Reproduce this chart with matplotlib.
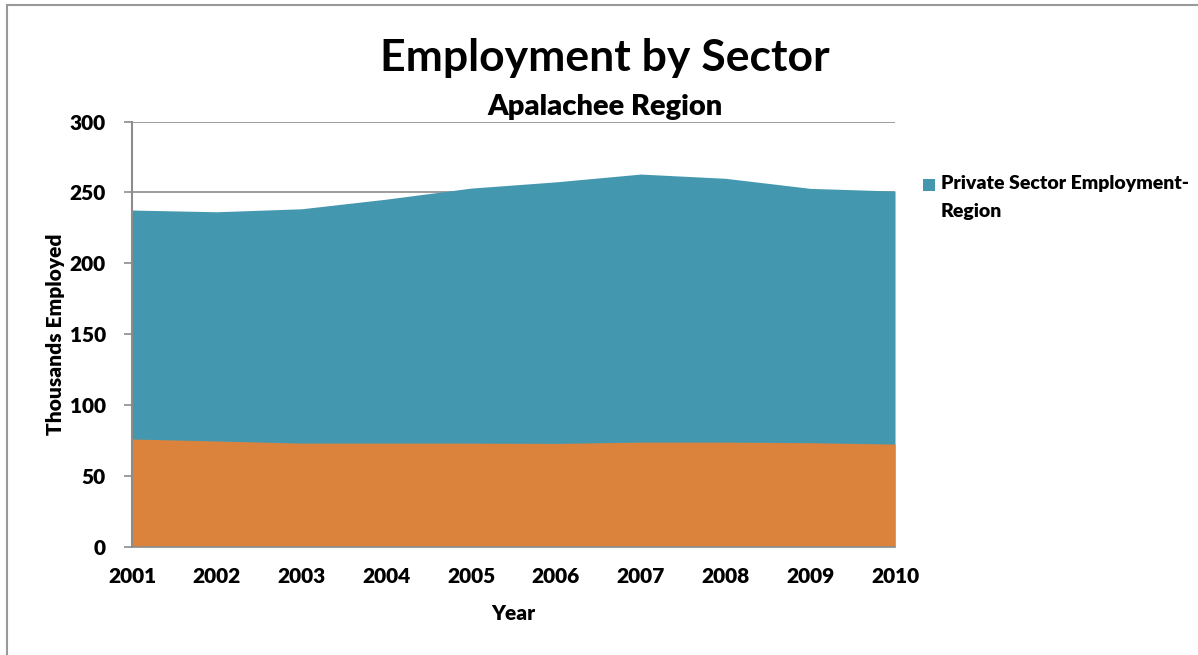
import matplotlib.pyplot as plt
from matplotlib.patches import Rectangle

plt.rcParams['font.family'] = ['Lato', 'DejaVu Sans']

years = [2001, 2002, 2003, 2004, 2005, 2006, 2007, 2008, 2009, 2010]
private_region = [237.5, 236.3, 238.4, 245.2, 253.0, 257.4, 262.9, 259.9, 252.8, 250.9]
public_region = [75.9, 74.5, 73.0, 73.0, 73.0, 72.8, 73.7, 73.7, 73.3, 72.3]
y_ticks = [0, 50, 100, 150, 200, 250, 300]

teal = '#4398B0'
orange = '#DB833D'
grey = '#8C8C8C'
W = 'heavy'

fig = plt.figure(figsize=(11.98, 6.55), dpi=100)
ax = fig.add_axes([0.1102, 0.1656, 0.6369, 0.6489])

ax.fill_between(years, 0, private_region, color=teal, linewidth=0, zorder=2)
ax.fill_between(years, 0, public_region, color=orange, linewidth=0, zorder=3)

ax.set_xlim(years[0], years[-1])
ax.set_ylim(0, 300)
ax.set_xticks(years)
ax.set_yticks(y_ticks)
ax.grid(axis='y', color=grey, linewidth=1.2, zorder=1)
ax.set_axisbelow(True)

for side in ['top', 'right']:
    ax.spines[side].set_visible(False)
ax.spines['left'].set_color(grey)
ax.spines['left'].set_linewidth(1.5)
ax.spines['left'].set_zorder(5)
ax.spines['bottom'].set_color(grey)
ax.spines['bottom'].set_linewidth(1.2)
ax.spines['bottom'].set_zorder(5)

ax.tick_params(axis='y', length=6, width=1.2, color=grey, pad=13, labelsize=15)
ax.tick_params(axis='x', length=0, pad=15, labelsize=15)
for lab in ax.get_xticklabels() + ax.get_yticklabels():
    lab.set_fontweight(W)

ax.set_xlabel('Year', fontsize=15, fontweight=W, labelpad=13)
ax.set_ylabel('Thousands Employed', fontsize=15, fontweight=W, labelpad=3)

fig.text(0.505, 0.912, 'Employment by Sector', ha='center', va='center',
         fontsize=32, fontweight='bold')
fig.text(0.505, 0.836, 'Apalachee Region', ha='center', va='center',
         fontsize=21, fontweight=W)

# legend for the private sector series
fig.patches.append(Rectangle((923 / 1198, 1 - 191 / 655), 12 / 1198, 12 / 655,
                             transform=fig.transFigure, facecolor=teal,
                             edgecolor='none'))
fig.text(941 / 1198, 1 - 175 / 655, 'Private Sector Employment-\nRegion',
         ha='left', va='top', fontsize=14, fontweight=W,
         linespacing=1.8, transform=fig.transFigure)

# outer chart frame
fig.patches.append(Rectangle((6.5 / 1198, -0.1), 1.2, 1 - 5 / 655 + 0.1,
                             transform=fig.transFigure, facecolor='none',
                             edgecolor='#999999', linewidth=1.5))

fig.savefig('out.png', dpi=100)
